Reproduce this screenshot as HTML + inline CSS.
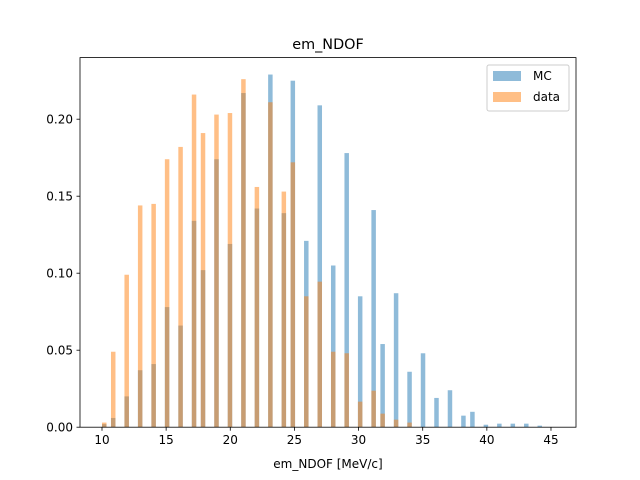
<!DOCTYPE html>
<html><head><meta charset="utf-8"><style>
html,body{margin:0;padding:0;background:#fff}
svg{display:block;font-family:"DejaVu Sans","Liberation Sans",sans-serif}
</style></head><body>
<svg id="chart" width="640" height="480" viewBox="0 0 640 480">
<rect x="0" y="0" width="640" height="480" fill="#fff"/>
<g id="bars"></g>
<g id="axes"></g>
<text x="328" y="49" font-size="14.4" text-anchor="middle" fill="#000">em_NDOF</text>
<text x="328" y="468" font-size="12" text-anchor="middle" fill="#000">em_NDOF [MeV/c]</text>
<g>
<rect x="487" y="65" width="82" height="46" rx="2" fill="#fff" fill-opacity="0.8" stroke="#ccc" stroke-width="1"/>
<rect x="493" y="71" width="28" height="10" fill="#1f77b4" fill-opacity="0.5"/>
<text x="533" y="80" font-size="12" fill="#000">MC</text>
<rect x="493" y="92" width="28" height="10" fill="#ff7f0e" fill-opacity="0.5"/>
<text x="533" y="101" font-size="12" fill="#000">data</text>
</g>
</svg>
<script>
const binLefts = [10.0,10.7,11.75,12.8,13.85,14.9,15.95,17.0,17.7,18.75,19.8,20.85,21.9,22.95,24.0,24.7,25.75,26.8,27.85,28.9,29.95,31.0,31.7,32.75,33.8,34.85,35.9,36.95,38.0,38.7,39.75,40.8,41.85,42.9,43.95];
const mcValues = [0.002,0.006,0.020,0.037,0.041,0.078,0.066,0.134,0.102,0.174,0.119,0.217,0.142,0.229,0.139,0.225,0.121,0.209,0.105,0.178,0.085,0.141,0.054,0.087,0.036,0.048,0.019,0.024,0.0075,0.010,0.0016,0.0023,0.0023,0.0023,0.0010];
const dataValues = [0.003,0.049,0.099,0.144,0.145,0.174,0.182,0.216,0.191,0.203,0.204,0.226,0.156,0.211,0.153,0.172,0.085,0.0945,0.049,0.048,0.0166,0.0237,0.0088,0.0049,0.003,0,0,0,0,0,0,0,0,0,0];
const xTicks = [10,15,20,25,30,35,40,45];
const yTicks = [0,0.05,0.10,0.15,0.20];
const binWidth = 0.35;

const L=80,R=576,T=57.6,B=427.2;
const xmin=8.285,xmax=46.95,ymax=0.24;
const xs=v=>L+(v-xmin)/(xmax-xmin)*(R-L);
const ys=v=>B-v/ymax*(B-T);
const NS="http://www.w3.org/2000/svg";
const bars=document.getElementById('bars');
function drawSeries(vals,color,name){
  vals.forEach((v,i)=>{
    if(v<=0) return;
    const r=document.createElementNS(NS,'rect');
    const x0=xs(binLefts[i]),x1=xs(binLefts[i]+binWidth);
    r.setAttribute('x',x0);r.setAttribute('width',x1-x0);
    r.setAttribute('y',ys(v));r.setAttribute('height',B-ys(v));
    r.setAttribute('fill',color);r.setAttribute('fill-opacity','0.5');
    
    
    bars.appendChild(r);
  });
}
drawSeries(mcValues,'#1f77b4','mc');
drawSeries(dataValues,'#ff7f0e','data');
const ax=document.getElementById('axes');
let h='';
h+=`<rect x="${L}" y="${T}" width="${R-L}" height="${B-T}" fill="none" stroke="#000" stroke-width="0.8"/>`;
xTicks.forEach(t=>{const x=xs(t);
 h+=`<line x1="${x}" y1="${B}" x2="${x}" y2="${B+3.5}" stroke="#000" stroke-width="0.8"/>`;
 h+=`<text x="${x}" y="${B+17}" font-size="12" text-anchor="middle">${t}</text>`;});
yTicks.forEach(t=>{const y=ys(t);
 h+=`<line x1="${L-3.5}" y1="${y}" x2="${L}" y2="${y}" stroke="#000" stroke-width="0.8"/>`;
 h+=`<text x="${L-7}" y="${y+4.5}" font-size="12" text-anchor="end">${t.toFixed(2)}</text>`;});
ax.innerHTML=h;
</script>
</body></html>
